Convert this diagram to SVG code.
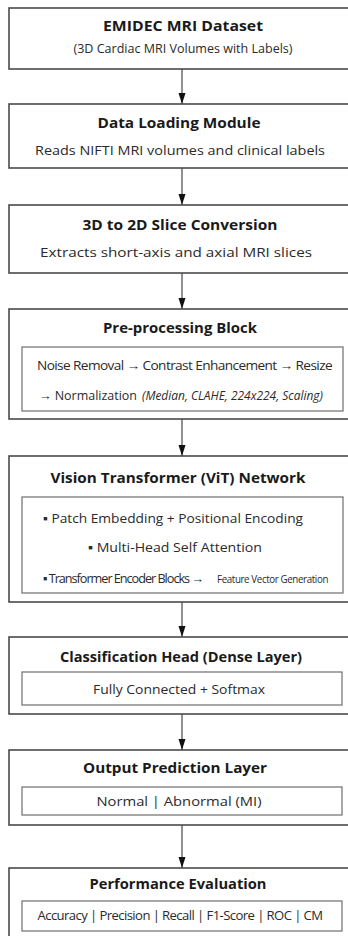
<svg xmlns="http://www.w3.org/2000/svg" width="348" height="936" viewBox="0 0 348 936">
  <style>
    .outer { fill: #ffffff; stroke: #4a4a4a; stroke-width: 1.6; }
    .inner { fill: #ffffff; stroke: #6e6e6e; stroke-width: 1.2; }
    .title { font-family: "Open Sans", "Noto Sans", sans-serif; font-size: 14px; font-weight: bold; fill: #1a1a1a; text-anchor: middle; }
    .body { font-family: "Open Sans", "Noto Sans", sans-serif; font-size: 13.5px; fill: #2a2a2a; }
    .tight { letter-spacing: -0.6px; }
    .mid { text-anchor: middle; }
    .note { font-family: "Open Sans", "Noto Sans", sans-serif; font-size: 12.5px; font-style: italic; fill: #2a2a2a; }
    .tiny { font-family: "Open Sans", "Noto Sans", sans-serif; font-size: 10px; letter-spacing: -0.4px; fill: #2a2a2a; }
    .edge { stroke: #555555; stroke-width: 1.3; fill: none; }
  </style>
  <defs>
    <!-- arrowhead drawn along +x so orient="auto" points it along the line -->
    <marker id="head" markerUnits="userSpaceOnUse" markerWidth="12" markerHeight="8" refX="11" refY="4" orient="auto" viewBox="0 0 12 8">
      <path d="M0,0.5 L11,4 L0,7.5 Z" fill="#111111"/>
    </marker>
  </defs>

  <rect width="348" height="936" fill="#ffffff"/>

  <!-- connectors -->
  <g id="connectors">
    <line class="edge" x1="182" y1="69" x2="182" y2="104" marker-end="url(#head)"/>
    <line class="edge" x1="182" y1="168" x2="182" y2="205" marker-end="url(#head)"/>
    <line class="edge" x1="182" y1="273" x2="182" y2="309" marker-end="url(#head)"/>
    <line class="edge" x1="182" y1="419" x2="182" y2="456" marker-end="url(#head)"/>
    <line class="edge" x1="182" y1="602" x2="182" y2="637" marker-end="url(#head)"/>
    <line class="edge" x1="182" y1="714" x2="182" y2="750" marker-end="url(#head)"/>
    <line class="edge" x1="182" y1="825" x2="182" y2="868" marker-end="url(#head)"/>
  </g>

  <g id="dataset">
    <rect class="outer" x="9" y="8" width="360" height="61"/>
    <text class="title" x="183" y="31" textLength="160" lengthAdjust="spacingAndGlyphs">EMIDEC MRI Dataset</text>
    <text class="body mid" x="183" y="53" textLength="219" lengthAdjust="spacingAndGlyphs">(3D Cardiac MRI Volumes with Labels)</text>
  </g>

  <g id="loading">
    <rect class="outer" x="9" y="104" width="360" height="64"/>
    <text class="title" x="179" y="128" textLength="163" lengthAdjust="spacingAndGlyphs">Data Loading Module</text>
    <text class="body mid" x="180" y="155" textLength="290" lengthAdjust="spacingAndGlyphs">Reads NIFTI MRI volumes and clinical labels</text>
  </g>

  <g id="slicing">
    <rect class="outer" x="9" y="205" width="360" height="68"/>
    <text class="title" x="180" y="230" textLength="195" lengthAdjust="spacingAndGlyphs">3D to 2D Slice Conversion</text>
    <text class="body mid" x="176" y="257" textLength="272" lengthAdjust="spacingAndGlyphs">Extracts short-axis and axial MRI slices</text>
  </g>

  <g id="preprocessing">
    <rect class="outer" x="9" y="309" width="360" height="110"/>
    <text class="title" x="180" y="333" textLength="154" lengthAdjust="spacingAndGlyphs">Pre-processing Block</text>
    <rect class="inner" x="22" y="347" width="321" height="64"/>
    <text class="body tight" x="37" y="370" textLength="295" lengthAdjust="spacingAndGlyphs">Noise Removal → Contrast Enhancement → Resize</text>
    <text class="body" x="39" y="400" textLength="98" lengthAdjust="spacingAndGlyphs">→ Normalization</text>
    <text class="note" x="142" y="400" textLength="181" lengthAdjust="spacingAndGlyphs">(Median, CLAHE, 224x224, Scaling)</text>
  </g>

  <g id="vit">
    <rect class="outer" x="9" y="456" width="360" height="146"/>
    <text class="title" x="178" y="483" textLength="255" lengthAdjust="spacingAndGlyphs">Vision Transformer (ViT) Network</text>
    <rect class="inner" x="22" y="497" width="321" height="96"/>
    <text class="body" x="43" y="523" textLength="260" lengthAdjust="spacingAndGlyphs">▪ Patch Embedding + Positional Encoding</text>
    <text class="body" x="88" y="552" textLength="174" lengthAdjust="spacingAndGlyphs">▪ Multi-Head Self Attention</text>
    <text class="body" x="43" y="583" font-size="13" letter-spacing="-1.1" textLength="160" lengthAdjust="spacingAndGlyphs">▪ Transformer Encoder Blocks →</text>
    <text class="tiny" x="217" y="583" textLength="111" lengthAdjust="spacingAndGlyphs">Feature Vector Generation</text>
  </g>

  <g id="classifier">
    <rect class="outer" x="9" y="637" width="360" height="77"/>
    <text class="title" x="181" y="662" textLength="242" lengthAdjust="spacingAndGlyphs">Classification Head (Dense Layer)</text>
    <rect class="inner" x="22" y="672" width="320" height="33"/>
    <text class="body mid" x="179" y="694" textLength="172" lengthAdjust="spacingAndGlyphs">Fully Connected + Softmax</text>
  </g>

  <g id="prediction">
    <rect class="outer" x="9" y="750" width="360" height="75"/>
    <text class="title" x="175" y="773" textLength="184" lengthAdjust="spacingAndGlyphs">Output Prediction Layer</text>
    <rect class="inner" x="22" y="787" width="320" height="28"/>
    <text class="body mid" x="179" y="806" textLength="165" lengthAdjust="spacingAndGlyphs">Normal  |  Abnormal (MI)</text>
  </g>

  <g id="evaluation">
    <rect class="outer" x="9" y="868" width="360" height="80"/>
    <text class="title" x="178" y="889" textLength="177" lengthAdjust="spacingAndGlyphs">Performance Evaluation</text>
    <rect class="inner" x="22" y="901" width="320" height="30"/>
    <text class="body tight mid" x="180" y="920" textLength="285" lengthAdjust="spacingAndGlyphs">Accuracy | Precision | Recall | F1-Score | ROC | CM</text>
  </g>
</svg>
